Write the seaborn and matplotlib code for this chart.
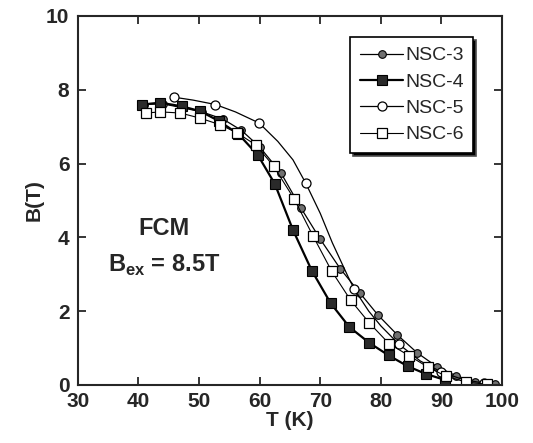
import matplotlib

matplotlib.use("Agg")

import matplotlib.pyplot as plt
import numpy as np
import pandas as pd
import seaborn as sns

# NSC-3: gray filled circles
t_nsc3 = [41.0, 44.0, 47.0, 50.5, 54.0, 57.0, 60.0, 63.5, 66.8, 70.0, 73.3, 76.5, 79.5, 82.7, 86.0, 89.2, 92.4, 95.6, 98.8]
b_nsc3 = [7.60, 7.62, 7.52, 7.40, 7.20, 6.90, 6.45, 5.75, 4.80, 3.95, 3.15, 2.50, 1.90, 1.36, 0.87, 0.50, 0.25, 0.08, 0.02]

# NSC-4: dark filled squares
t_nsc4 = [40.6, 43.6, 47.2, 50.2, 53.3, 56.5, 59.7, 62.5, 65.5, 68.6, 71.7, 74.8, 78.1, 81.3, 84.4, 87.4, 90.5]
b_nsc4 = [7.60, 7.65, 7.55, 7.42, 7.15, 6.80, 6.23, 5.45, 4.20, 3.10, 2.22, 1.57, 1.14, 0.80, 0.51, 0.30, 0.14]

# NSC-5: open circles, smooth line with sparse markers
t_nsc5 = [45.8, 49.0, 52.7, 56.0, 59.9, 63.0, 65.5, 67.6, 70.0, 72.0, 74.6, 75.6, 78.0, 80.0, 83.0, 86.5, 90.0, 93.5, 97.0]
b_nsc5 = [7.80, 7.72, 7.60, 7.40, 7.10, 6.60, 6.10, 5.47, 4.65, 3.85, 2.93, 2.60, 2.00, 1.60, 1.10, 0.65, 0.35, 0.15, 0.05]
marks_nsc5 = [0, 2, 4, 7, 11, 14, 16, 18]

# NSC-6: open squares
t_nsc6 = [41.3, 43.6, 46.9, 50.2, 53.5, 56.3, 59.4, 62.3, 65.7, 68.8, 71.9, 75.0, 78.1, 81.4, 84.7, 87.7, 90.7, 94.0, 97.5]
b_nsc6 = [7.37, 7.40, 7.37, 7.23, 7.05, 6.83, 6.50, 5.93, 5.04, 4.04, 3.08, 2.30, 1.68, 1.11, 0.79, 0.49, 0.24, 0.08, 0.02]

x_ticks = [30, 40, 50, 60, 70, 80, 90, 100]
y_ticks = [0, 2, 4, 6, 8, 10]

sns.set_style("ticks")
plt.rcParams["font.family"] = ["Liberation Sans", "DejaVu Sans"]

fig = plt.figure(figsize=(5.33, 4.43), dpi=100)
ax = fig.add_axes([0.146, 0.131, 0.796, 0.833])

sns.lineplot(x=t_nsc3, y=b_nsc3, ax=ax, color="black", lw=0.9, marker="o", ms=5.5,
             mfc="#707070", mec="black", mew=0.8, label="NSC-3")
sns.lineplot(x=t_nsc4, y=b_nsc4, ax=ax, color="black", lw=1.6, marker="s", ms=6.5,
             mfc="#2a2a2a", mec="black", mew=0.8, label="NSC-4")
sns.lineplot(x=t_nsc5, y=b_nsc5, ax=ax, color="black", lw=0.9, marker="o", ms=6.5,
             mfc="white", mec="black", mew=0.9, markevery=marks_nsc5, label="NSC-5")
sns.lineplot(x=t_nsc6, y=b_nsc6, ax=ax, color="black", lw=0.8, marker="s", ms=7,
             mfc="white", mec="black", mew=0.9, label="NSC-6")

ax.set_xlim(30, 100)
ax.set_ylim(0, 10)
ax.set_xticks(x_ticks)
ax.set_yticks(y_ticks)
ax.tick_params(direction="in", length=6, width=1.3, top=True, right=True,
               labelsize=15)
ax.tick_params(axis="x", pad=5)
ax.tick_params(axis="y", pad=6)
for lab in ax.get_xticklabels() + ax.get_yticklabels():
    lab.set_fontweight("bold")
for spine in ax.spines.values():
    spine.set_linewidth(1.5)

ax.set_xlabel("T (K)", fontsize=15, fontweight="bold", labelpad=0)
ax.set_ylabel("B(T)", fontsize=15, fontweight="bold", labelpad=2)

ax.text(44.3, 4.25, "FCM", fontsize=17, fontweight="bold", ha="center", va="center")
ax.text(44.3, 3.25, r"B$_{\mathregular{ex}}$ = 8.5T", fontsize=17, fontweight="bold",
        ha="center", va="center")

leg = ax.legend(loc="upper right", bbox_to_anchor=(0.932, 0.943), frameon=True,
                fancybox=False, shadow={"facecolor": "black", "alpha": 1},
                prop={"family": ["Liberation Sans", "DejaVu Sans"], "size": 14},
                handlelength=2.2, handletextpad=0.1, labelspacing=0.45,
                borderpad=0.5, borderaxespad=0)
leg.get_frame().set_edgecolor("black")
leg.get_frame().set_linewidth(1.2)

fig.savefig("out.png", dpi=100)
plt.close(fig)
